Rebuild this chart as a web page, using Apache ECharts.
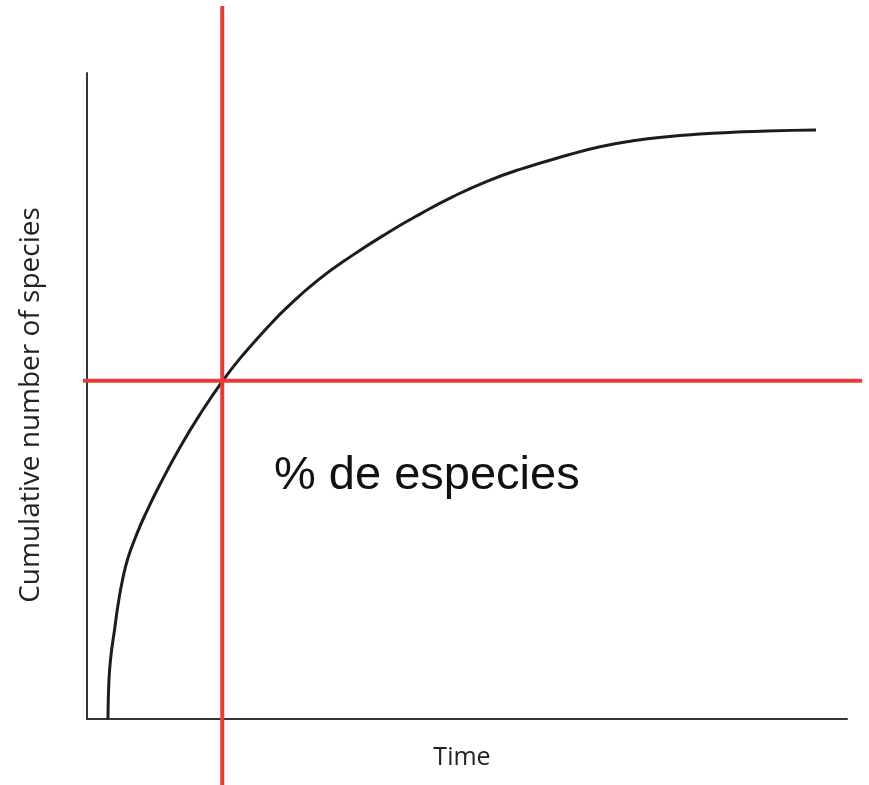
<!DOCTYPE html>
<html>
<head>
<meta charset="utf-8">
<script src="https://cdn.jsdelivr.net/npm/echarts@6/dist/echarts.min.js"></script>
<style>
  html, body { margin: 0; padding: 0; background: #fff; }
  #chart { width: 869px; height: 785px; }
</style>
</head>
<body>
<div id="chart"></div>
<script>
// Species accumulation curve (time vs cumulative species)
const timeValues = [2.76, 2.89, 3.16, 3.62, 4.08, 4.67, 5.39, 6.45, 7.63, 9.61, 12.24, 14.87, 17.83, 20.46, 23.82, 26.32, 30.39, 34.87, 39.47, 43.82, 48.16, 52.63, 56.97, 63.16, 67.5, 71.84, 76.32, 80.66, 85.0, 89.47, 95.92];
const speciesValues = [0, 6.04, 9.91, 13.78, 17.65, 21.52, 24.92, 28.33, 31.58, 36.33, 42.06, 47.17, 52.32, 56.28, 60.71, 63.72, 67.94, 71.73, 75.2, 78.16, 80.87, 83.24, 85.08, 87.26, 88.59, 89.5, 90.14, 90.54, 90.82, 91.04, 91.19];

// Red reference lines: crossing point and how far the lines run
const crossTime = 17.8;
const crossSpecies = 52.4;
const guideTimeRange = [-0.53, 102];
const guideSpeciesRange = [-10.2, 110.4];

const axisNames = { x: 'Time', y: 'Cumulative number of species' };
const noteText = '% de especies';

const CURVE_COLOR = '#1c1c1c';
const AXIS_COLOR = '#333333';
const RED = '#e63b36';

const chart = echarts.init(document.getElementById('chart'), null, { renderer: 'canvas' });

const option = {
  backgroundColor: '#ffffff',
  animation: false,
  grid: [
    { left: 87, right: 22, top: 73, bottom: 66 },
    { left: 83, right: 7, top: 6, bottom: 0 }
  ],
  xAxis: [
    {
      type: 'value', gridIndex: 0, min: 0, max: 100,
      axisLine: { show: true, onZero: false, lineStyle: { color: AXIS_COLOR, width: 2 } },
      axisTick: { show: false }, axisLabel: { show: false }, splitLine: { show: false },
      name: axisNames.x, nameLocation: 'middle', nameGap: 26,
      nameTextStyle: { fontFamily: 'Open Sans', fontSize: 25, color: '#222', padding: [0, 10, 0, 0] }
    },
    {
      type: 'value', gridIndex: 1, min: guideTimeRange[0], max: guideTimeRange[1], show: false
    }
  ],
  yAxis: [
    {
      type: 'value', gridIndex: 0, min: 0, max: 100,
      axisLine: { show: true, onZero: false, lineStyle: { color: AXIS_COLOR, width: 2 } },
      axisTick: { show: false }, axisLabel: { show: false }, splitLine: { show: false },
      name: axisNames.y, nameLocation: 'middle', nameGap: 42, nameRotate: 90,
      nameTextStyle: { fontFamily: 'Open Sans', fontSize: 28, color: '#222', padding: [0, 18, 0, 0] }
    },
    {
      type: 'value', gridIndex: 1, min: guideSpeciesRange[0], max: guideSpeciesRange[1], show: false
    }
  ],
  series: [
    {
      name: 'accumulation', type: 'line', xAxisIndex: 0, yAxisIndex: 0,
      data: timeValues.map((t, i) => [t, speciesValues[i]]),
      smooth: 0.5, showSymbol: false, clip: false,
      lineStyle: { color: CURVE_COLOR, width: 3 }
    },
    {
      name: 'vertical guide', type: 'line', xAxisIndex: 1, yAxisIndex: 1,
      data: [[crossTime, guideSpeciesRange[0]], [crossTime, guideSpeciesRange[1]]],
      showSymbol: false, lineStyle: { color: RED, width: 4 }
    },
    {
      name: 'horizontal guide', type: 'line', xAxisIndex: 1, yAxisIndex: 1,
      data: [[guideTimeRange[0], crossSpecies], [guideTimeRange[1], crossSpecies]],
      showSymbol: false, lineStyle: { color: RED, width: 4 }
    }
  ],
  graphic: [
    {
      type: 'text', left: 274, top: 453,
      style: { text: noteText, fontFamily: 'Liberation Sans', fontSize: 47, fill: '#111' }
    }
  ]
};

chart.setOption(option);
window.addEventListener('resize', () => chart.resize());
</script>
</body>
</html>
